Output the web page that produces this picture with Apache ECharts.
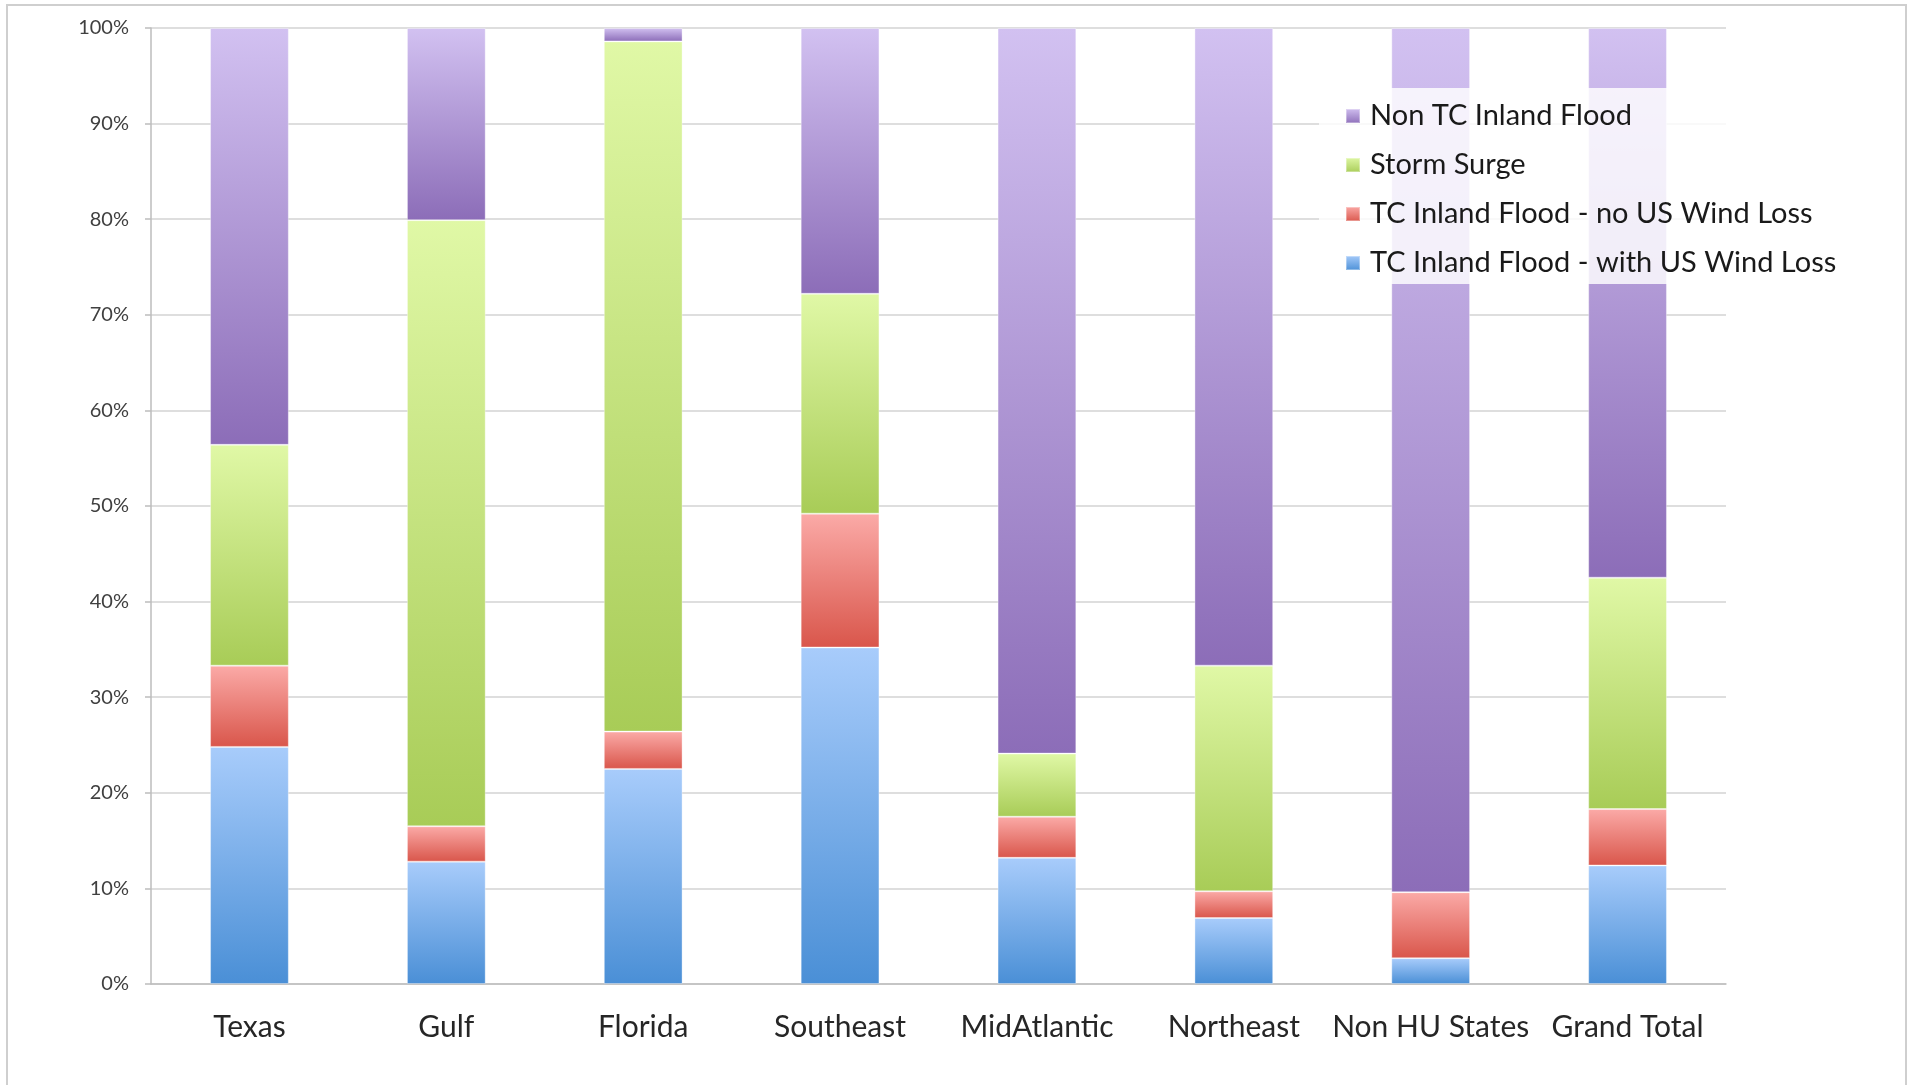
<!DOCTYPE html>
<html>
<head>
<meta charset="utf-8">
<title>Flood loss share by region</title>
<script src="https://cdn.jsdelivr.net/npm/echarts@6/dist/echarts.min.js"></script>
<style>
  html, body { margin: 0; padding: 0; background: #fff; }
  #chart { width: 1915px; height: 1085px; }
</style>
</head>
<body>
<div id="chart"></div>
<script>
// shares in % (stack order: bottom to top)
const regions = ['Texas', 'Gulf', 'Florida', 'Southeast', 'MidAtlantic', 'Northeast', 'Non HU States', 'Grand Total'];
const withWindLoss = [24.8, 12.8, 22.5, 35.2, 13.2, 6.9, 2.7, 12.4];
const noWindLoss = [8.5, 3.7, 3.9, 14.0, 4.3, 2.8, 6.9, 5.9];
const stormSurge = [23.1, 63.4, 72.2, 23.0, 6.6, 23.6, 0, 24.2];
const nonTcFlood = [43.6, 20.1, 1.4, 27.8, 75.9, 66.7, 90.4, 57.5];
const yTicks = [0, 10, 20, 30, 40, 50, 60, 70, 80, 90, 100];

const chart = echarts.init(document.getElementById('chart'));

// excel style fill, light at the top of each segment
function grad(top, bottom) {
  return new echarts.graphic.LinearGradient(0, 0, 0, 1, [
    { offset: 0, color: top },
    { offset: 1, color: bottom }
  ]);
}

function bar(name, data, top, bottom) {
  return {
    name: name,
    type: 'bar',
    stack: 'share',
    barWidth: '40%',
    data: data,
    itemStyle: {
      color: grad(top, bottom),
      borderColor: 'rgba(255,255,255,0.35)',
      borderWidth: 1
    }
  };
}

const option = {
  backgroundColor: '#fff',
  animation: false,
  textStyle: { fontFamily: 'Lato' },
  graphic: [{
    type: 'rect',
    shape: { x: 7, y: 5, width: 1899, height: 1100 },
    style: { fill: 'none', stroke: '#cfcfcf', lineWidth: 2 },
    silent: true
  }],
  grid: { left: 151, right: 189, top: 28, bottom: 101 },
  legend: {
    orient: 'vertical',
    left: 1319,
    top: 88,
    padding: [13, 22, 6, 26],
    backgroundColor: 'rgba(255,255,255,0.82)',
    itemWidth: 14,
    itemHeight: 14,
    itemGap: 19,
    icon: 'rect',
    data: ['Non TC Inland Flood', 'Storm Surge', 'TC Inland Flood - no US Wind Loss', 'TC Inland Flood - with US Wind Loss'],
    textStyle: { fontSize: 29, lineHeight: 30, color: '#1a1a1a', padding: [0, 0, 0, 5] }
  },
  xAxis: {
    type: 'category',
    data: regions,
    axisLine: { lineStyle: { color: '#bdbdbd', width: 1.5 } },
    axisTick: { length: 10, lineStyle: { color: '#bdbdbd', width: 1.5 } },
    axisLabel: { interval: 0, fontSize: 30, color: '#262626', margin: 28 }
  },
  yAxis: {
    type: 'value',
    min: yTicks[0],
    max: yTicks[yTicks.length - 1],
    interval: yTicks[1] - yTicks[0],
    axisLine: { show: true, lineStyle: { color: '#bdbdbd', width: 1.5 } },
    axisTick: { show: true, length: 6, lineStyle: { color: '#bdbdbd', width: 1.5 } },
    axisLabel: { formatter: '{value}%', fontSize: 20, color: '#404040', margin: 22 },
    splitLine: { lineStyle: { color: '#d3d3d3', width: 1.5 } }
  },
  series: [
    bar('TC Inland Flood - with US Wind Loss', withWindLoss, '#a8ccfb', '#4a8fd6'),
    bar('TC Inland Flood - no US Wind Loss', noWindLoss, '#fbaaa7', '#d9564b'),
    bar('Storm Surge', stormSurge, '#e0f8a6', '#a8cc57'),
    bar('Non TC Inland Flood', nonTcFlood, '#d2c1f1', '#8c6db8')
  ]
};

chart.setOption(option);
</script>
</body>
</html>
